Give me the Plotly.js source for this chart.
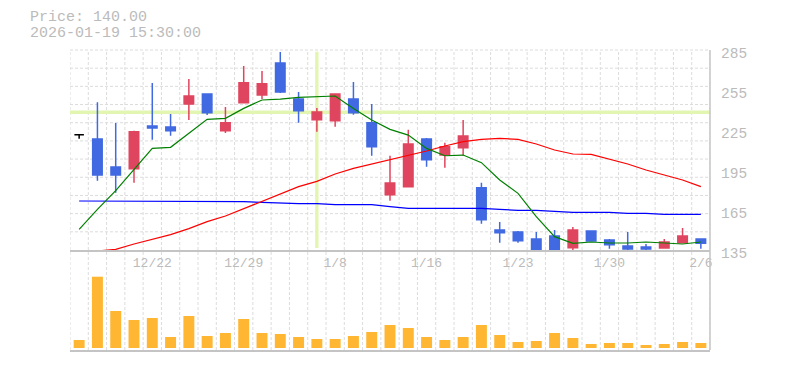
<!DOCTYPE html>
<html><head><meta charset="utf-8">
<script src="https://cdn.plot.ly/plotly-3.0.1.min.js"></script>
<style>html,body{margin:0;padding:0;background:#fff}#chart{width:785px;height:370px}</style>
</head><body><div id="chart"></div>
<script>
// Trading days (categories)
const dates = ['12/16','12/17','12/18','12/19','12/22','12/23','12/24','12/25','12/26','12/29','12/30',
  '1/5','1/6','1/7','1/8','1/9','1/13','1/14','1/15','1/16','1/19','1/20','1/21','1/22','1/23',
  '1/26','1/27','1/28','1/29','1/30','2/2','2/3','2/4','2/5','2/6'];
const openP  = [221.5,218.25,197.25,196.0,228.0,227.25,244.5,252.0,224.5,245.5,251.25,275.25,248.25,232.75,232.0,248.25,230.5,176.5,182.5,218.25,206.25,211.75,181.75,150.0,148.5,143.25,145.5,136.75,149.25,142.5,138.0,137.25,136.5,140.5,143.25];
const highP  = [221.5,245.75,230.25,224.5,260.25,237.0,263.25,252.0,242.25,273.0,269.25,283.5,253.5,241.5,252.0,261.0,244.5,205.75,225.25,219.0,215.5,232.5,185.5,156.0,149.25,148.5,150.0,152.25,149.25,143.25,148.5,139.5,143.25,151.5,143.25];
const lowP   = [218.5,187.0,178.0,185.5,217.75,220.75,232.5,236.25,222.75,245.5,248.25,252.75,230.5,223.75,227.5,236.5,205.75,172.0,182.5,197.5,196.75,205.75,154.75,140.5,140.5,134.5,133.5,134.5,141.75,136.0,134.5,134.5,136.5,140.5,136.0];
const closeP = [221.5,191.25,191.25,223.75,226.5,224.5,250.5,238.0,230.5,260.5,259.75,253.5,239.5,238.5,252.0,238.0,212.5,185.25,214.5,202.75,212.5,220.5,157.75,148.0,142.0,134.5,133.5,150.0,141.75,139.0,135.75,135.75,141.0,145.5,140.0];
const volume = [80,713,370,280,300,110,320,120,150,290,150,140,110,90,90,120,160,230,200,110,80,110,230,130,60,70,150,100,40,50,50,30,40,60,50];
const ma5  = [150.5,165.5,179.5,195,211.2,212,222.5,233,233.7,241.2,247.5,248.2,249.5,250,250.5,241.2,232.5,225.5,221.2,211.2,205.7,206.2,200.5,187.5,177.5,160,145,140,141,140.25,140.25,141,140,139.5,141];
const ma25 = [null,134.25,135.5,139.5,143,146.5,151,156.25,160.5,166,171.75,177,182.5,186.5,192,196.25,199.5,202.5,206.25,209.25,213,216.25,218,218.75,218,214.5,210,207,206.75,203.25,199.5,195,191.25,187.5,182.5];
const ma75 = [171.75,171.75,171.75,171.75,171.75,171.75,171.75,171.75,171.25,171.25,170.75,170,169.75,169.75,169,169,169,167.5,166.25,166.25,166.25,166.25,166.25,165.5,164.75,164.75,164,163.25,163.25,163.25,162.5,162.5,161.75,161.75,161.75];
const tickIdx = [4,9,14,19,24,29,34];
const priceTicks = [135,165,195,225,255,285];
const headerPrice = 'Price: 140.00';
const headerTime = '2026-01-19 15:30:00';
const crossIdx = 13, crossPrice = 238.3;

const idx = dates.map((d,i)=>i);
const pick = (arr, sel) => sel.map(i=>arr[i]);
const normal = idx.filter(i=>openP[i]!==closeP[i]);
const doji = idx.filter(i=>openP[i]===closeP[i]);

const UP='#e0455f', DOWN='#4169e1';
const traces = [
  {type:'candlestick', x:normal, open:pick(openP,normal), high:pick(highP,normal), low:pick(lowP,normal), close:pick(closeP,normal),
   xaxis:'x', yaxis:'y', whiskerwidth:0,
   increasing:{line:{color:UP,width:1.5},fillcolor:UP},
   decreasing:{line:{color:DOWN,width:1.5},fillcolor:DOWN}, hoverinfo:'skip'},
  {type:'candlestick', x:doji, open:pick(openP,doji), high:pick(highP,doji), low:pick(lowP,doji), close:pick(closeP,doji),
   xaxis:'x', yaxis:'y', whiskerwidth:0,
   increasing:{line:{color:'#000',width:1.5},fillcolor:'#000'},
   decreasing:{line:{color:'#000',width:1.5},fillcolor:'#000'}, hoverinfo:'skip'},
  {type:'scatter', mode:'lines', x:idx, y:ma75, line:{color:'#0000ff',width:1.2}, xaxis:'x', yaxis:'y', hoverinfo:'skip'},
  {type:'scatter', mode:'lines', x:idx, y:ma25, line:{color:'#ff0000',width:1.2}, xaxis:'x', yaxis:'y', hoverinfo:'skip'},
  {type:'scatter', mode:'lines', x:idx, y:ma5, line:{color:'#008000',width:1.2}, xaxis:'x', yaxis:'y', hoverinfo:'skip'},
  {type:'bar', x:idx, y:volume, width:0.6, marker:{color:'#ffb733',line:{width:0}}, xaxis:'x2', yaxis:'y2', hoverinfo:'skip'}
];

const GRID='#dcdcdc', AX='#c4c4c4', TXT='#bbbbbb';
const shapes = [];
for(let k=0;k<=dates.length;k++){
  shapes.push({type:'line', xref:'x', yref:'paper', x0:k-0.5, x1:k-0.5, y0:0, y1:1, layer:'below',
    line:{color:GRID,width:1,dash:'3px,2px'}});
}
for(let k=1;k<=11;k++){
  shapes.push({type:'line', xref:'paper', yref:'y domain', x0:0, x1:1, y0:k/11, y1:k/11, layer:'below',
    line:{color:GRID,width:1,dash:'3px,2px'}});
}
shapes.push({type:'line', xref:'x', yref:'y', x0:crossIdx, x1:crossIdx, y0:136.5, y1:283.7, layer:'below', line:{color:'#e2f5b1',width:3.3}});
shapes.push({type:'line', xref:'x', yref:'y', x0:-0.5, x1:dates.length-0.5, y0:crossPrice, y1:crossPrice, layer:'below', line:{color:'#e2f5b1',width:3.3}});
shapes.push({type:'line', xref:'paper', yref:'paper', x0:1, x1:1, y0:0, y1:1, line:{color:AX,width:1.5}});

const layout = {
  width:785, height:370, paper_bgcolor:'#fff', plot_bgcolor:'#fff',
  margin:{l:70,r:75,t:50,b:20}, showlegend:false,
  boxgap:0.48, boxgroupgap:0, boxmode:'overlay',
  xaxis:{domain:[0,1], anchor:'y', range:[-0.5,dates.length-0.5], rangeslider:{visible:false},
    tickmode:'array', tickvals:tickIdx, ticktext:tickIdx.map(i=>dates[i]),
    showgrid:false, zeroline:false, showline:true, linecolor:AX, linewidth:1.5, ticks:'',
    tickfont:{family:'Liberation Sans Narrow, Liberation Mono, monospace', size:13, color:TXT}, fixedrange:true},
  yaxis:{domain:[1/3,1], anchor:'x', side:'right', range:[135,285], tickmode:'array', tickvals:priceTicks,
    showgrid:false, zeroline:false, showline:false, ticks:'', ticklabelstandoff:10, ticklabelshift:3,
    tickfont:{family:'Liberation Mono, monospace', size:14.5, color:TXT}},
  xaxis2:{domain:[0,1], anchor:'y2', range:[-0.5,dates.length-0.5], showticklabels:false, showgrid:false,
    zeroline:false, showline:true, linecolor:AX, linewidth:1.5, ticks:''},
  yaxis2:{domain:[0,0.3], anchor:'x2', side:'right', range:[-20,880], showticklabels:false, showgrid:false,
    zeroline:false, showline:false, ticks:''},
  shapes:shapes,
  annotations:[
    {xref:'paper', yref:'paper', x:(28-70)/640, y:(350-17.7)/300, xanchor:'left', yanchor:'middle', showarrow:false,
     text:headerPrice, font:{family:'Liberation Mono, monospace', size:15, color:TXT}},
    {xref:'paper', yref:'paper', x:(28-70)/640, y:(350-33.3)/300, xanchor:'left', yanchor:'middle', showarrow:false,
     text:headerTime, font:{family:'Liberation Mono, monospace', size:15, color:TXT}}
  ]
};
Plotly.newPlot('chart', traces, layout, {staticPlot:true, displayModeBar:false});
</script></body></html>
